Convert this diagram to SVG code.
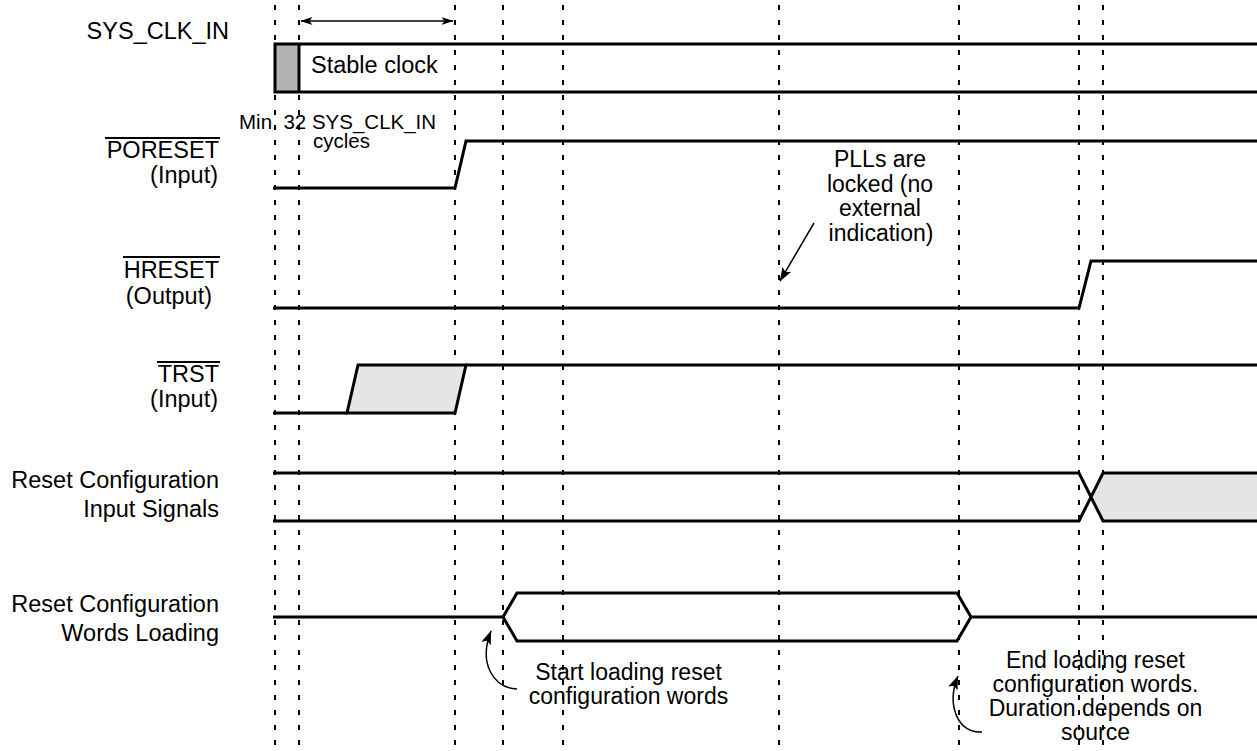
<svg xmlns="http://www.w3.org/2000/svg" width="1257" height="751" viewBox="0 0 1257 751">
<defs>
<style>
text{font-family:"Liberation Sans",Arial,sans-serif;fill:#000}
.lbl{font-size:23.5px;text-anchor:end}
.ann{font-size:23px;text-anchor:middle}
.sig{fill:none;stroke:#000;stroke-width:3;stroke-linejoin:miter}
.grid{stroke:#000;stroke-width:2;stroke-dasharray:5 10}
.bar{stroke:#000;stroke-width:2}
.thin{fill:none;stroke:#000;stroke-width:1.5}
</style>
<marker id="ah" viewBox="0 0 12 8" refX="11.5" refY="4" markerWidth="12" markerHeight="8" markerUnits="userSpaceOnUse" orient="auto-start-reverse">
<path d="M0,0 L12,4 L0,8 L3,4 Z" fill="#000"/>
</marker>
<marker id="ah2" viewBox="0 0 14 10" refX="13.5" refY="5" markerWidth="14" markerHeight="10" markerUnits="userSpaceOnUse" orient="auto">
<path d="M0,0 L14,5 L0,10 L3,5 Z" fill="#000"/>
</marker>
</defs>
<rect width="1257" height="751" fill="#fff"/>

<g id="grid">
<line class="grid" x1="275" y1="5" x2="275" y2="751"/>
<line class="grid" x1="299" y1="5" x2="299" y2="751"/>
<line class="grid" x1="455" y1="5" x2="455" y2="751"/>
<line class="grid" x1="503" y1="5" x2="503" y2="751"/>
<line class="grid" x1="563" y1="5" x2="563" y2="751"/>
<line class="grid" x1="779" y1="5" x2="779" y2="751"/>
<line class="grid" x1="959" y1="5" x2="959" y2="751"/>
<line class="grid" x1="1079" y1="5" x2="1079" y2="751"/>
<line class="grid" x1="1103" y1="5" x2="1103" y2="751"/>
</g>

<g id="sys_clk_in">
<text class="lbl" x="229" y="39">SYS_CLK_IN</text>
<rect x="275" y="44" width="24" height="48" fill="#b3b3b3"/>
<path class="sig" d="M1257,44 H275 V92 H1257 M299,44 V92"/>
<text x="311" y="73" style="font-size:23.5px">Stable clock</text>
</g>

<g id="poreset">
<text class="lbl" x="219" y="158">PORESET</text>
<line class="bar" x1="105" y1="138" x2="220" y2="138"/>
<text class="lbl" x="218" y="183">(Input)</text>
<path class="sig" d="M273,188 H455 L466,141 H1257"/>
</g>

<g id="hreset">
<text class="lbl" x="219" y="278">HRESET</text>
<line class="bar" x1="123" y1="257" x2="220" y2="257"/>
<text class="lbl" x="212" y="304">(Output)</text>
<path class="sig" d="M273,308 H1079 L1091,261 H1257"/>
</g>

<g id="trst">
<text class="lbl" x="219" y="382">TRST</text>
<line class="bar" x1="157" y1="362" x2="220" y2="362"/>
<text class="lbl" x="218" y="407">(Input)</text>
<path d="M347,413 L358,365 H466 L455,413 Z" fill="#e5e5e5" stroke="#000" stroke-width="3" stroke-linejoin="miter"/>
<path class="sig" d="M273,413 H347 M466,365 H1257"/>
</g>

<g id="reset_config_inputs">
<text class="lbl" x="219" y="488">Reset Configuration</text>
<text class="lbl" x="219" y="517">Input Signals</text>
<path d="M1103,473 H1257 V521 H1103 L1091,497 Z" fill="#e5e5e5"/>
<path class="sig" d="M273,473 H1079 L1103,521 H1257 M273,521 H1079 L1103,473 H1257"/>
</g>

<g id="reset_config_words">
<text class="lbl" x="219" y="612">Reset Configuration</text>
<text class="lbl" x="219" y="641">Words Loading</text>
<path class="sig" d="M273,617 H503 L517,593 H957 L971,617 H1257 M503,617 L517,641 H957 L971,617"/>
</g>

<g id="annotations">
<text x="239" y="129" style="font-size:20.5px">Min. 32 SYS_CLK_IN</text>
<text x="313" y="148" style="font-size:20.5px">cycles</text>
<text class="ann" x="880" y="167">PLLs are</text>
<text class="ann" x="880" y="191.5">locked (no</text>
<text class="ann" x="880" y="216">external</text>
<text class="ann" x="881" y="240.5">indication)</text>
<text class="ann" x="628.5" y="680">Start loading reset</text>
<text class="ann" x="628.5" y="703.5">configuration words</text>
<text class="ann" x="1095.5" y="668">End loading reset</text>
<text class="ann" x="1095.5" y="692">configuration words.</text>
<text class="ann" x="1095.5" y="716">Duration depends on</text>
<text class="ann" x="1095.5" y="740">source</text>
</g>

<g id="connectors">
<line class="thin" x1="301" y1="21" x2="453" y2="21" marker-start="url(#ah)" marker-end="url(#ah)"/>
<line class="thin" x1="814" y1="223" x2="780" y2="281" marker-end="url(#ah2)"/>
<path class="thin" d="M517,689 C494,688 478,664 491,631" marker-end="url(#ah2)"/>
<path class="thin" d="M982,732 C958,734 946,705 958,676" marker-end="url(#ah2)"/>
</g>
</svg>
